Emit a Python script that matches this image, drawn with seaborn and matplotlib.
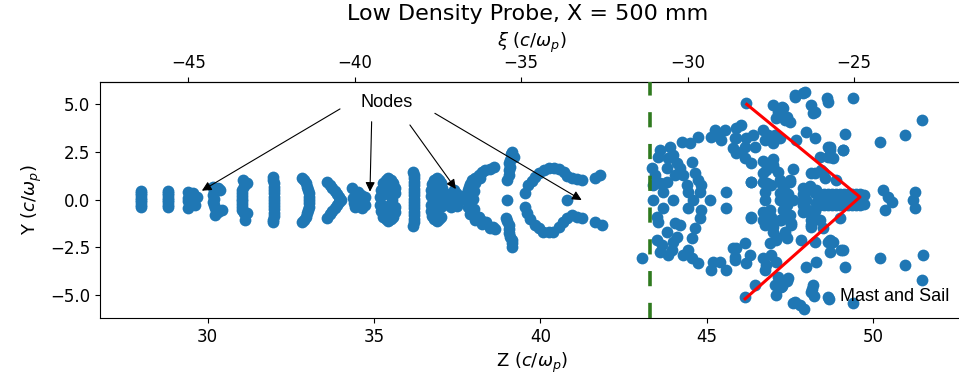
import matplotlib
matplotlib.use("Agg")
import matplotlib.pyplot as plt
import seaborn as sns
import pandas as pd

# ---------------- data ----------------
# plasma wake behind the probe line (Z, Y)
wake_z = [28.0, 28.0, 28.0, 28.0, 28.0, 28.0, 28.0, 28.0,
          28.8, 28.8, 28.8, 28.8, 28.8, 28.8, 28.8, 28.8,
          29.4, 29.57, 29.68, 29.41, 29.41, 29.62, 29.41, 29.5, 29.5, 29.45,
          30.17, 30.38, 30.17, 30.17, 30.23, 30.43, 30.23, 30.2, 30.2, 30.2, 30.3, 30.3,
          31.08, 31.2, 31.1, 31.05, 31.03, 31.03, 31.03, 31.03, 31.05, 31.05, 31.05, 31.1, 31.2, 31.13,
          31.98, 31.98, 32.0, 32.0, 32.0, 32.0, 32.0, 32.0, 32.0, 32.0, 32.0, 32.0, 32.0, 31.98, 31.98,
          32.85, 32.9, 32.95, 32.99, 33.02, 33.04, 33.05, 33.05, 33.05, 33.04, 33.02, 32.99, 32.95, 32.9, 32.85,
          33.6, 33.68, 33.75, 33.83, 33.9, 33.95, 34.0, 33.95, 33.9, 33.83, 33.75, 33.68, 33.6,
          34.33, 34.53, 34.38, 34.58, 34.73, 34.43, 34.73, 34.63, 34.45, 34.6, 34.4,
          35.18, 35.28, 35.43, 35.58, 35.63, 35.63, 35.58, 35.43, 35.28, 35.18, 35.43, 35.43,
          35.2, 35.2, 35.35, 35.5, 35.62, 35.62, 35.5, 35.35, 35.3, 35.55, 35.3, 35.55,
          36.18, 36.2, 36.2, 36.2, 36.2, 36.2, 36.2, 36.2, 36.2, 36.2, 36.2, 36.2, 36.2, 36.2, 36.2, 36.2, 36.18,
          36.7, 36.75, 36.88, 37.0, 37.05, 37.05, 37.0, 36.88, 36.75, 36.7, 36.88, 36.88,
          36.7, 36.7, 36.8, 36.95, 37.05, 37.05, 36.95, 36.8, 36.8, 37.0, 36.8, 37.0,
          37.25, 37.45, 37.6, 37.3, 37.55, 37.3, 37.5, 37.4, 37.65, 37.4,
          38.6, 38.35, 38.15, 37.95, 37.85, 37.8, 37.8, 37.82, 37.9, 38.05, 38.25, 38.5, 38.65,
          38.48, 38.25, 38.05, 37.9, 37.82, 37.8, 37.85, 37.97, 38.15, 38.38, 38.58,
          38.05, 38.0, 37.97, 38.0, 38.12, 38.2, 38.25,
          39.15, 39.12, 39.2, 39.08, 39.05, 39.1, 39.05, 39.05, 39.0, 39.0,
          38.98, 39.0, 39.05, 39.05, 39.05, 39.1, 39.15, 39.15, 39.15,
          39.55, 39.63, 39.75, 39.85, 39.95, 40.1, 40.25, 40.4, 40.55, 40.7, 40.8, 40.94, 41.1, 41.24,
          41.64, 41.79,
          39.54, 39.59, 39.7, 39.84, 39.95, 40.08, 40.25, 40.38, 40.55, 40.68, 40.8, 40.94, 41.1, 41.24,
          41.64, 41.84,
          40.8]
wake_y = [0.45, 0.33, 0.21, 0.09, -0.03, -0.15, -0.27, -0.39,
          0.45, 0.33, 0.21, 0.09, -0.03, -0.15, -0.27, -0.39,
          0.41, 0.34, 0.15, 0.1, -0.1, -0.29, -0.45, 0.2, -0.2, 0.0,
          0.67, 0.5, 0.23, -0.11, -0.46, -0.55, -0.81, 0.45, 0.05, -0.3, -0.65, 0.6,
          1.02, 0.88, 0.7, 0.5, 0.35, 0.2, 0.05, -0.1, -0.25, -0.4, -0.55, -0.72, -0.72, -1.07,
          1.2, 1.02, 0.85, 0.68, 0.5, 0.33, 0.15, -0.02, -0.2, -0.36, -0.52, -0.7, -0.88, -1.05, -1.2,
          1.15, 1.0, 0.85, 0.67, 0.5, 0.32, 0.15, -0.02, -0.2, -0.37, -0.55, -0.72, -0.9, -1.05, -1.2,
          0.9, 0.75, 0.6, 0.45, 0.3, 0.15, 0.0, -0.15, -0.3, -0.45, -0.6, -0.78, -0.95,
          0.59, 0.41, 0.06, 0.0, 0.15, -0.38, -0.29, -0.46, 0.3, 0.25, -0.2,
          0.15, 0.85, 1.1, 0.85, 0.32, -0.38, -0.9, -1.1, -0.9, -0.29, 0.55, -0.55,
          0.5, -0.6, 1.0, 1.0, 0.6, -0.65, -1.0, -1.0, 0.3, 0.3, -0.35, -0.05,
          1.45, 1.27, 1.1, 0.92, 0.75, 0.57, 0.4, 0.22, 0.05, -0.12, -0.3, -0.47, -0.65, -0.82, -1.0, -1.2, -1.4,
          0.2, 0.8, 1.1, 0.85, 0.3, -0.35, -0.9, -1.1, -0.85, -0.3, 0.5, -0.55,
          0.5, -0.6, 1.0, 1.0, 0.6, -0.05, -1.0, -1.0, 0.25, 0.3, -0.3, -0.35,
          0.3, 0.35, 0.2, -0.1, -0.05, -0.4, -0.35, 0.1, 0.05, 0.5,
          1.7, 1.55, 1.3, 1.0, 0.65, 0.3, -0.05, -0.4, -0.75, -1.05, -1.3, -1.5, -1.55,
          1.62, 1.43, 1.15, 0.83, 0.48, 0.12, -0.22, -0.58, -0.9, -1.18, -1.42,
          0.85, 0.45, 0.05, -0.5, -0.9, 1.1, -1.15,
          2.5, 2.37, 2.24, 2.07, 1.9, 1.72, 1.55, 1.28, 1.0, 0.0,
          -0.97, -1.15, -1.33, -1.55, -1.77, -1.95, -2.12, -2.3, -2.47,
          0.35, 0.75, 0.98, 1.2, 1.4, 1.55, 1.65, 1.65, 1.6, 1.45, 1.25, 1.11, 1.05, 1.02,
          1.11, 1.28,
          -0.38, -0.72, -1.02, -1.33, -1.5, -1.68, -1.7, -1.68, -1.45, -1.16, -0.95, -0.81, -0.9, -0.98,
          -1.16, -1.33,
          0.0]

# beam / bunch region ahead of the probe line (Z, Y)
bunch_z = [43.04,
           43.34, 43.44, 43.59, 43.53, 43.89, 44.24, 44.49, 44.73,
           43.98, 44.09, 43.79, 44.04, 44.54, 44.28, 44.64, 44.73, 44.84, 44.79,
           43.38, 43.68, 43.59, 44.43, 43.98, 43.38, 44.58, 45.09, 45.59, 45.59,
           43.68, 43.49, 44.43, 44.84, 44.79, 44.64, 44.54, 44.04, 43.79, 44.09,
           43.49, 43.59, 43.94, 43.83, 44.28, 44.43, 44.54, 44.73, 45.18, 45.14,
           45.39, 45.59, 45.84, 45.78,
           45.14, 45.29, 45.24, 45.54, 45.44, 45.89, 45.78, 45.89, 45.89,
           43.83, 44.19, 43.79, 44.39, 43.53, 44.19, 43.98, 43.64,
           46.19, 46.98, 47.13, 47.28, 47.09, 47.34, 47.49, 47.64, 47.94, 48.14, 48.18, 48.63,
           46.04, 45.84, 46.19, 46.38, 46.14, 46.44, 46.68, 46.83, 46.74, 46.98, 47.04, 47.19,
           46.04, 46.14, 46.34, 46.34, 46.79, 46.98, 47.13, 46.68, 46.94, 47.24, 47.49, 46.74, 47.19, 47.54, 47.34,
           46.68, 46.94, 47.19, 47.49, 46.34, 46.74, 46.98, 47.09, 47.54,
           47.94, 47.99, 48.03, 48.24, 48.29, 48.14, 48.39, 48.59, 48.78, 48.89,
           48.24, 48.48, 48.39, 48.63, 48.69, 48.24, 47.99, 47.69,
           48.14, 47.84, 48.24, 48.63, 48.69, 47.99, 48.29,
           45.89, 46.14, 46.29, 45.84, 46.19, 46.68, 46.94, 46.79, 46.74, 47.09, 47.13, 47.04, 47.24, 47.09,
           47.44, 46.44, 46.14, 47.64, 47.79, 48.18, 48.14, 48.63,
           49.39, 51.45, 50.95, 50.2, 49.14, 49.09, 48.7, 48.78, 48.89, 49.59, 49.64, 50.29, 50.45, 50.55,
           50.35, 51.25, 51.19, 51.25, 48.99, 48.78, 49.09, 49.14, 50.2, 50.95, 51.5, 51.45, 49.39,
           47.25, 47.4, 47.66, 47.9, 48.26, 48.6,
           47.16, 47.25, 47.4, 47.6, 47.91, 48.15, 48.21, 48.66,
           48.4, 48.52, 48.64, 48.76, 48.88, 49.0, 49.12, 49.24, 49.36, 49.48, 49.6, 49.72,
           48.4, 48.52, 48.64, 48.76, 48.88, 49.0, 49.12, 49.24, 49.36, 49.48, 49.6, 49.72,
           48.6, 48.9, 49.2, 49.5,
           47.9, 47.9, 47.9, 47.9, 47.9, 48.1, 48.29, 48.1, 48.25,
           47.0, 46.7, 46.8, 47.2, 47.5, 47.33, 47.2, 47.58, 47.3, 46.74, 46.9, 46.68, 47.0, 47.24,
           47.09, 47.54, 46.34, 46.34, 47.45, 47.4,
           48.63, 48.69, 49.09, 48.14, 48.44, 48.54,
           48.14, 48.48, 48.69, 49.04,
           46.7, 46.85, 47.0, 47.6, 46.9, 47.35, 47.4]
bunch_y = [-3.08,
           1.63, 1.28, 2.6, 2.2, 2.77, 3.03, 2.96, 3.29,
           2.33, 1.9, 1.63, 1.28, 1.98, 1.28, 1.39, 1.02, 0.76, 0.41,
           0.76, 0.41, 0.86, 0.41, -0.03, -0.03, 0.0, 0.0, 0.41, -0.46,
           -0.45, -0.9, -0.45, -0.55, -0.97, -1.5, -2.03, -1.23, -1.68, -1.95,
           -2.12, -2.73, -2.64, -2.9, -2.9, -2.64, -3.08, -3.33, -3.26, -3.69,
           -3.26, -3.69, -3.0, -2.55,
           3.29, 3.38, 3.64, 3.64, 3.12, 3.2, 2.7, 2.43, 3.73,
           2.17, 1.64, 0.93, 0.76, -1.16, -1.33, -2.2, -2.38,
           5.03, 4.95, 4.6, 4.8, 4.25, 4.16, 4.07, 5.47, 5.64, 4.95, 4.52, 5.12,
           3.9, 3.2, 3.2, 3.38, 2.77, 2.77, 3.64, 3.38, 3.12, 2.94, 3.38, 3.2,
           2.5, 2.16, 1.9, 0.93, 1.55, 1.81, 1.46, 0.93, 0.76, 0.86, 0.93, 0.41, 0.34, 0.0, -0.11,
           -0.64, -0.9, -1.07, -0.81, -0.9, -1.33, -1.68, -2.12, -1.33,
           0.41, 0.0, -0.55, 0.34, -0.19, -1.07, -1.07, 0.07, 0.07, 0.0,
           1.38, 1.46, 2.24, 2.24, 2.77, 3.2, 3.55, 3.12,
           -1.42, -2.12, -2.2, -2.2, -2.73, -3.51, -3.26,
           -2.55, -2.29, -2.9, -3.16, -3.34, -3.08, -2.9, -3.43, -3.69, -3.26, -4.04, -4.47, -4.56, -5.0,
           -4.12, -4.47, -5.09, -5.35, -5.52, -4.47, -4.82, -5.09,
           5.33, 4.16, 3.38, 3.03, 3.43, 2.59, 2.59, 2.16, 1.02, 0.15, -0.19, 0.5, 0.15, -0.11,
           -0.55, 0.41, 0.0, -0.46, -0.97, -2.2, -2.64, -3.52, -3.08, -3.43, -2.9, -4.21, -5.42,
           4.85, 4.33, 5.38, 5.55, 4.59, 5.3,
           -4.6, -4.51, -4.25, -5.39, -5.73, -4.69, -5.04, -5.21,
           0.28, 0.28, 0.3, 0.28, 0.3, 0.28, 0.3, 0.28, 0.3, 0.28, 0.3, 0.25,
           -0.28, -0.28, -0.3, -0.28, -0.3, -0.28, -0.3, -0.28, -0.3, -0.28, -0.3, -0.25,
           0.0, 0.0, 0.0, 0.0,
           0.6, 0.3, 0.0, -0.3, -0.64, 0.7, 0.5, -0.7, -0.6,
           1.72, 1.39, 0.86, 1.0, 1.0, 0.5, 0.0, 0.0, -0.55, 0.0, -0.55, -1.07, -1.42, -1.07,
           -1.95, -1.24, 0.93, -0.97, 0.3, -0.3,
           2.77, 2.24, 2.59, 1.37, 1.55, 1.11,
           -1.33, -1.5, -2.12, -2.64,
           2.0, 1.75, 2.1, 1.6, -2.3, -1.7, -2.0]

xi_offset = 74.42            # xi = Z - offset
probe_z = 43.3               # dashed probe line
mast_z = [46.2, 49.6, 46.15]
mast_y = [4.98, 0.13, -5.2]
node_head_z = [29.83, 34.88, 37.46, 41.24]
node_head_y = [0.46, 0.41, 0.55, -0.03]
node_tail_z = [33.98, 34.93, 36.08, 36.83]
node_tail_y = [4.74, 4.07, 3.9, 4.51]

df = pd.DataFrame({"Z": wake_z + bunch_z, "Y": wake_y + bunch_y})

# ---------------- figure ----------------
fig = plt.figure(figsize=(9.59, 3.79), dpi=100)
ax = fig.add_axes([0.1043, 0.161, 0.9, 0.6227])

sns.scatterplot(data=df, x="Z", y="Y", ax=ax, s=72, color="#1f77b4",
                linewidth=0, legend=False, zorder=2)

ax.axvline(probe_z, color="#2f7a1f", lw=2.6, dashes=(4.2, 4.6), zorder=3)
ax.plot(mast_z, mast_y, color="red", lw=2.2, zorder=4)

ax.set_xlim(26.77, 52.7)
ax.set_ylim(-6.2, 6.15)
ax.set_xticks([30, 35, 40, 45, 50])
ax.set_yticks([-5.0, -2.5, 0.0, 2.5, 5.0])
ax.tick_params(labelsize=12)

ax.set_xlabel(r"Z $(c/\omega_p)$", fontsize=13)
ax.set_ylabel(r"Y $(c/\omega_p)$", fontsize=13)

sec = ax.secondary_xaxis("top", functions=(lambda z: z - xi_offset,
                                           lambda x: x + xi_offset))
sec.set_xticks([-45, -40, -35, -30, -25])
sec.tick_params(labelsize=12)
sec.set_xlabel(r"$\xi$ $(c/\omega_p)$", fontsize=13, labelpad=5)

fig.suptitle("Low Density Probe, X = 500 mm", fontsize=16, y=0.99, x=0.55)

ax.text(35.37, 5.1, "Nodes", fontsize=13, family="Liberation Sans",
        ha="center", va="center")
for hz, hy, tz, ty in zip(node_head_z, node_head_y, node_tail_z, node_tail_y):
    ax.annotate("", xy=(hz, hy), xytext=(tz, ty),
                arrowprops=dict(arrowstyle="-|>", color="black", lw=0.8,
                                mutation_scale=14, shrinkA=0, shrinkB=0))

ax.text(48.99, -5.1, "Mast and Sail", fontsize=13, family="Liberation Sans",
        ha="left", va="center")

fig.savefig("out.png", dpi=100)
